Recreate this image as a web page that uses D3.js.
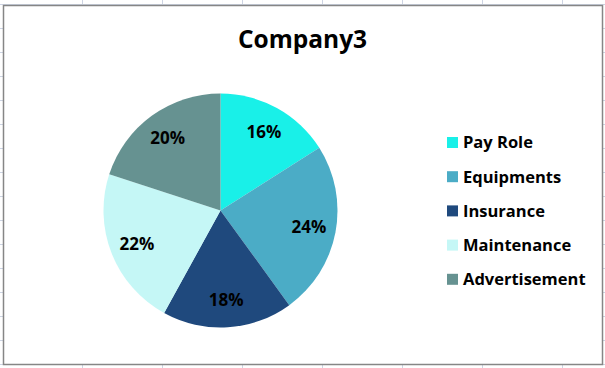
<!DOCTYPE html>
<html>
<head>
<meta charset="utf-8">
<script src="https://cdn.jsdelivr.net/npm/d3@7"></script>
<style>
  body { margin: 0; background: #fff; }
  svg { display: block; }
  text { font-family: "Open Sans", Lato, sans-serif; font-weight: bold; fill: #000; }
</style>
</head>
<body>
<div id="app"></div>
<script>
// chart data
const title = "Company3";
const categories = ["Pay Role", "Equipments", "Insurance", "Maintenance", "Advertisement"];
const values = [16, 24, 18, 22, 20];
const colors = ["#19f0e8", "#4bacc6", "#1f497d", "#c5f7f6", "#669291"];

const width = 605;
const height = 368;

let svg = d3.select("#app")
    .append("svg")
        .attr("width", width)
        .attr("height", height);

// spreadsheet grid behind the chart
let grid = svg.append("g").attr("stroke", "#cdd4e3").attr("stroke-width", 1);
grid.selectAll("line.col")
    .data(d3.range(82.5, width, 80))
    .enter().append("line")
        .attr("x1", d => d).attr("x2", d => d)
        .attr("y1", 0).attr("y2", height);
grid.selectAll("line.row")
    .data(d3.range(4.5, height, 24))
    .enter().append("line")
        .attr("x1", 0).attr("x2", width)
        .attr("y1", d => d).attr("y2", d => d);

// chart area
svg.append("rect")
    .attr("x", 3.5)
    .attr("y", 5.5)
    .attr("width", 599)
    .attr("height", 359)
    .attr("fill", "#fff")
    .attr("stroke", "#868686")
    .attr("stroke-width", 1.5);

svg.append("text")
    .attr("x", 302.5)
    .attr("y", 48)
    .attr("text-anchor", "middle")
    .style("font-size", "24.5px")
    .text(title);

// pie
const radius = 117;
let g = svg.append("g")
    .attr("transform", "translate(220.5,210.5)");

let pie = d3.pie().sort(null).value(d => d.value);
let arc = d3.arc().innerRadius(0).outerRadius(radius);
let labelArc = d3.arc().innerRadius(90).outerRadius(90);

let data = categories.map((c, i) => ({name: c, value: values[i]}));
let total = d3.sum(values);
let color = d3.scaleOrdinal().domain(categories).range(colors);

let slices = g.selectAll("g.slice")
    .data(pie(data))
    .enter()
    .append("g")
        .attr("class", "slice");

slices.append("path")
    .attr("d", arc)
    .attr("fill", d => color(d.data.name));

slices.append("text")
    .attr("transform", d => "translate(" + labelArc.centroid(d) + ")")
    .attr("text-anchor", "middle")
    .attr("dy", "0.36em")
    .style("font-size", "17px")
    .text(d => Math.round(d.data.value / total * 100) + "%");

// legend
let legend = svg.append("g")
    .attr("transform", "translate(447,142.5)");

let items = legend.selectAll("g")
    .data(categories)
    .enter()
    .append("g")
        .attr("transform", (d, i) => "translate(0," + (i * 34.2) + ")");

items.append("rect")
    .attr("x", 0)
    .attr("y", -5.5)
    .attr("width", 11)
    .attr("height", 11)
    .attr("fill", d => color(d));

items.append("text")
    .attr("x", 16)
    .attr("dy", "0.36em")
    .style("font-size", "16.5px")
    .text(d => d);
</script>
</body>
</html>
